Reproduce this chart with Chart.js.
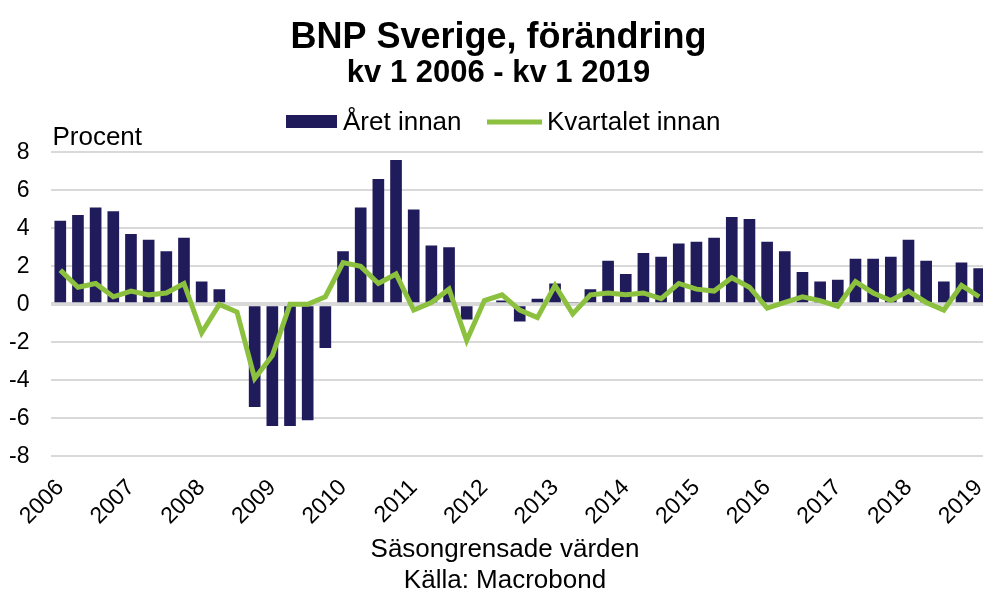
<!DOCTYPE html>
<html>
<head>
<meta charset="utf-8">
<script src="https://cdn.jsdelivr.net/npm/chart.js@4.4.1/dist/chart.umd.min.js"></script>
<style>
  html, body { margin: 0; padding: 0; background: #fff; overflow: hidden; }
  #wrap { width: 990px; height: 592px; }
</style>
</head>
<body>
<div id="wrap"><canvas id="gdpChart" width="990" height="592"></canvas></div>
<script>
// BNP Sverige, kv 1 2006 - kv 1 2019

const yearLabels = ["2006", "2007", "2008", "2009", "2010", "2011", "2012",
  "2013", "2014", "2015", "2016", "2017", "2018", "2019"];

// Året innan (procent)
const yearOnYear = [
  4.4, 4.7, 5.1, 4.9,
  3.7, 3.4, 2.8, 3.5,
  1.2, 0.8, 0.0, -5.4,
  -6.4, -6.4, -6.1, -2.3,
  2.8, 5.1, 6.6, 7.6,
  5.0, 3.1, 3.0, -0.8,
  0.0, 0.2, -0.9, 0.3,
  1.1, 0.1, 0.8, 2.3,
  1.6, 2.7, 2.5, 3.2,
  3.3, 3.5, 4.6, 4.5,
  3.3, 2.8, 1.7, 1.2,
  1.3, 2.4, 2.4, 2.5,
  3.4, 2.3, 1.2, 2.2,
  1.9
];

// Kvartalet innan (procent)
const quarterOnQuarter = [
  1.8, 0.9, 1.1, 0.4,
  0.7, 0.5, 0.6, 1.1,
  -1.5, 0.0, -0.4, -3.9,
  -2.7, 0.0, 0.0, 0.4,
  2.2, 2.0, 1.1, 1.6,
  -0.3, 0.1, 0.8, -1.9,
  0.2, 0.5, -0.3, -0.7,
  1.0, -0.5, 0.5, 0.6,
  0.5, 0.6, 0.3, 1.1,
  0.8, 0.7, 1.4, 0.9,
  -0.2, 0.1, 0.4, 0.2,
  -0.1, 1.2, 0.6, 0.2,
  0.7, 0.1, -0.3, 1.0,
  0.4
];

const yTicks = [-8, -6, -4, -2, 0, 2, 4, 6, 8];

// one category per quarter, kv 1 2006 .. kv 1 2019
const quarters = [];
yearLabels.forEach((year) => {
  for (let q = 1; q <= 4; q++) {
    if (quarters.length < yearOnYear.length) quarters.push(year + " kv " + q);
  }
});

const FONT = "'Liberation Sans', Arial, sans-serif";
const NAVY = "#201b5b";
const GREEN = "#8cc03f";

// legend, "Procent" and the footer lines
const extraText = {
  id: "extraText",
  afterDraw(chart) {
    const ctx = chart.ctx;
    const sets = chart.data.datasets;
    ctx.save();
    ctx.fillStyle = "#000";
    ctx.font = "26px " + FONT;
    ctx.textBaseline = "alphabetic";
    ctx.textAlign = "left";

    // legend
    ctx.fillStyle = sets[0].backgroundColor;
    ctx.fillRect(286, 115, 51, 13);
    ctx.fillStyle = "#000";
    ctx.fillText(sets[0].label, 343, 130);

    ctx.strokeStyle = sets[1].borderColor;
    ctx.lineWidth = 5;
    ctx.beginPath();
    ctx.moveTo(487, 122);
    ctx.lineTo(542, 122);
    ctx.stroke();
    ctx.fillText(sets[1].label, 547, 130);

    // unit
    ctx.fillText("Procent", chart.chartArea.left + 1, 145);

    // footer
    ctx.textAlign = "center";
    ctx.fillText("Säsongrensade värden", 505, 557);
    ctx.fillText("Källa: Macrobond", 505, 588);
    ctx.restore();
  }
};

const ctx = document.getElementById("gdpChart").getContext("2d");

new Chart(ctx, {
  data: {
    labels: quarters,
    datasets: [
      {
        type: "bar",
        label: "Året innan",
        data: yearOnYear,
        backgroundColor: NAVY,
        borderWidth: 0,
        categoryPercentage: 1.0,
        barPercentage: 0.66,
        order: 2
      },
      {
        type: "line",
        label: "Kvartalet innan",
        data: quarterOnQuarter,
        borderColor: GREEN,
        borderWidth: 5,
        pointRadius: 0,
        tension: 0,
        order: 1
      }
    ]
  },
  options: {
    responsive: false,
    animation: false,
    layout: { padding: { left: 9, right: 2, top: 0, bottom: 52 } },
    plugins: {
      legend: { display: false },
      tooltip: { enabled: false },
      title: {
        display: true,
        text: "BNP Sverige, förändring",
        color: "#000",
        font: { family: FONT, size: 36, weight: "bold", lineHeight: 0.95 },
        padding: { top: 21, bottom: 0 }
      },
      subtitle: {
        display: true,
        text: "kv 1 2006 - kv 1 2019",
        color: "#000",
        font: { family: FONT, size: 31, weight: "bold" },
        padding: { top: 0, bottom: 60 }
      }
    },
    scales: {
      x: {
        offset: true,
        grid: { display: false },
        border: { display: false },
        afterFit: (scale) => {
          // let the rotated year labels hang outside the plot
          scale.paddingLeft = 0;
          scale.paddingRight = 0;
        },
        ticks: {
          autoSkip: false,
          minRotation: 45,
          maxRotation: 45,
          padding: 10,
          color: "#000",
          font: { family: FONT, size: 23 },
          callback: (value, index) => (index % 4 === 0 ? yearLabels[index / 4] : "")
        }
      },
      y: {
        min: -8,
        max: 8,
        afterBuildTicks: (axis) => {
          axis.ticks = yTicks.map((v) => ({ value: v }));
        },
        afterFit: (scale) => {
          // v4 counts the tick padding twice here
          scale.width -= scale.options.ticks.padding;
        },
        grid: {
          color: "#d9d9d9",
          lineWidth: (c) => (c.tick && c.tick.value === 0 ? 4 : 2),
          drawTicks: false
        },
        border: { display: false },
        ticks: {
          padding: 22,
          color: "#000",
          font: { family: FONT, size: 23 }
        }
      }
    }
  },
  plugins: [extraText]
});
</script>
</body>
</html>
